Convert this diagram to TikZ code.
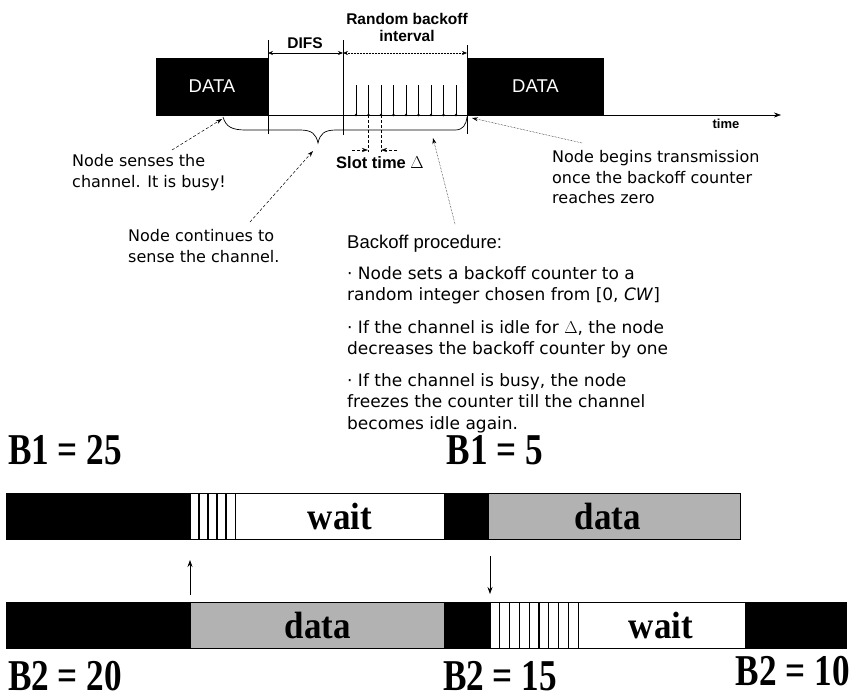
\documentclass[tikz,border=0pt]{standalone}
\usepackage{fontspec}
\usepackage{graphicx}
\setmainfont{Liberation Serif}
\newfontfamily\arialf{Liberation Sans}
\newfontfamily\comicf{DejaVu Sans}
\usetikzlibrary{arrows.meta}
\begin{document}
\begin{tikzpicture}[x=1pt,y=-1pt,
  databox/.style={fill=black,text=white,inner sep=0pt,font=\arialf\fontsize{18.5}{20}\selectfont},
  toplbl/.style={inner sep=0pt,align=center,font=\arialf\bfseries\fontsize{15.5}{17}\selectfont},
  comic/.style={inner sep=0pt,align=left,anchor=north west,font=\comicf\fontsize{16}{20.5}\selectfont},
  comicb/.style={inner sep=0pt,align=left,anchor=north west,font=\comicf\fontsize{17}{21.5}\selectfont},
  annot/.style={densely dashed,line width=0.5pt,-{Stealth[length=6pt,width=4pt]}},
  thin line/.style={line width=0.6pt},
  bigtxt/.style={inner sep=0pt,anchor=base,font=\bfseries\fontsize{44}{48}\selectfont},
  bartxt/.style={inner sep=0pt,font=\bfseries\fontsize{38}{40}\selectfont},
  whiteseg/.style={fill=white,draw=black,line width=0.8pt},
  greyseg/.style={fill=black!30,draw=black,line width=0.8pt},
  marker/.style={-{Stealth[length=7pt,width=5pt]},line width=0.7pt}]
\useasboundingbox (0,0) rectangle (851,699);

% ---------- top timing diagram ----------
\node[databox,minimum width=112pt,minimum height=57pt] (d1) at (212,86.5) {DATA};
\node[databox,minimum width=137pt,minimum height=57pt] (d2) at (535.5,86.5) {DATA};

\coordinate (axL) at (156,115);
\coordinate (axR) at (781,115);
\draw[thin line,-{Stealth[length=7pt,width=5pt]}] (axL) -- (axR);

\coordinate (v1t) at (268,40);  \coordinate (v1b) at (268,134);
\coordinate (v2t) at (343,40);  \coordinate (v2b) at (343,135);
\coordinate (v3t) at (467,45);  \coordinate (v3b) at (467,134);
\draw[thin line] (v1t) -- (v1b);
\draw[thin line] (v2t) -- (v2b);
\draw[thin line] (v3t) -- (v3b);

\coordinate (difsL) at (268,53); \coordinate (difsR) at (343,53);
\coordinate (rbR) at (467,53);
\draw[line width=0.6pt,{Stealth[length=5pt,width=4pt]}-{Stealth[length=5pt,width=4pt]}] (difsL) -- (difsR);
\draw[line width=0.5pt,densely dotted,{Stealth[length=5pt,width=4pt]}-{Stealth[length=5pt,width=4pt]}] (difsR) -- (rbR);
\node[toplbl] (difs) at (305,43) {DIFS};
\node[toplbl] (rb) at (407,27) {Random backoff\\interval};

\foreach \i in {0,...,8} {
  \draw[line width=0.7pt] ({356+12.5*\i},115) -- ({356+12.5*\i},85);
  \fill ({356+12.5*\i},115) circle (1.4pt);
}

% slot time
\coordinate (s1t) at (368,115); \coordinate (s1b) at (368,152);
\coordinate (s2t) at (381,115); \coordinate (s2b) at (381,152);
\draw[densely dashed,line width=0.5pt] (s1t) -- (s1b);
\draw[densely dashed,line width=0.5pt] (s2t) -- (s2b);
\coordinate (sa1) at (352,150); \coordinate (sa2) at (397,150);
\coordinate (sa1e) at (368,150); \coordinate (sa2e) at (381,150);
\draw[annot] (sa1) -- (sa1e);
\draw[annot] (sa2) -- (sa2e);
\node[toplbl,anchor=center,font=\arialf\bfseries\fontsize{16.5}{18}\selectfont] (slot) at (380,163) {Slot time $\Delta$};

% brace
\draw[line width=0.7pt] (223,117) .. controls (226,127) and (232,130) .. (246,130) -- (300,130)
  .. controls (312,130) and (316,134) .. (318,143)
  .. controls (320,134) and (324,130) .. (336,130) -- (455,130)
  .. controls (463,130) and (466,125) .. (467,117);

\node[inner sep=0pt,font=\arialf\bfseries\fontsize{13}{15}\selectfont] (time) at (726,124) {time};

% annotations
\node[comic] (senses) at (72,154.5) {Node senses the\\channel. It is busy!};
\node[comic] (cont) at (128,229.5) {Node continues to\\sense the channel.};
\node[comic] (begins) at (552,150.5) {Node begins transmission\\once the backoff counter\\reaches zero};

\coordinate (a1s) at (172,150); \coordinate (a1e) at (222,119);
\coordinate (a2s) at (250,222); \coordinate (a2e) at (313,151);
\coordinate (a3s) at (582,143); \coordinate (a3e) at (472,118);
\coordinate (a4s) at (455,224); \coordinate (a4e) at (433,138);
\draw[annot] (a1s) -- (a1e);
\draw[annot] (a2s) -- (a2e);
\draw[annot,densely dotted] (a3s) -- (a3e);
\draw[annot,densely dotted] (a4s) -- (a4e);

\node[inner sep=0pt,anchor=base west,font=\arialf\fontsize{18.5}{20}\selectfont] (bp) at (347,248.5) {Backoff procedure:};
\node[comicb] (bp1) at (347,266) {· Node sets a backoff counter to a\\random integer chosen from [0, \textit{CW}]};
\node[comicb] (bp2) at (347,320) {· If the channel is idle for $\Delta$, the node\\decreases the backoff counter by one};
\node[comicb] (bp3) at (347,373) {· If the channel is busy, the node\\freezes the counter till the channel\\becomes idle again.};

% ---------- bottom bars ----------
\node[bigtxt] (b1a) at (65,464) {\scalebox{0.8}[1]{B1 = 25}};
\node[bigtxt] (b1b) at (495,464) {\scalebox{0.8}[1]{B1 = 5}};

% bar 1  (y 493..539)
\fill[black] (6,493) rectangle (190,539);
\draw[whiteseg] (190,493) rectangle (235,539);
\foreach \x in {199,208,217,226} { \draw[line width=1.3pt] (\x,493) -- (\x,539); }
\draw[whiteseg] (235,493) rectangle (444,539);
\node[bartxt] (w1) at (340,516) {\scalebox{0.92}[1]{wait}};
\fill[black] (444,493) rectangle (488,539);
\draw[greyseg] (488,493) rectangle (740,539);
\node[bartxt] (g1) at (608,516) {\scalebox{0.92}[1]{data}};
\draw[line width=0.8pt] (6,493) rectangle (740,539);

% arrows
\coordinate (upS) at (190,595); \coordinate (upE) at (190,560);
\coordinate (dnS) at (490,556); \coordinate (dnE) at (490,594);
\draw[marker] (upS) -- (upE);
\draw[marker] (dnS) -- (dnE);

% bar 2  (y 602..648)
\fill[black] (6,602) rectangle (190,648);
\draw[greyseg] (190,602) rectangle (444,648);
\node[bartxt] (g2) at (318,625) {\scalebox{0.92}[1]{data}};
\fill[black] (444,602) rectangle (490,648);
\draw[whiteseg] (490,602) rectangle (578,648);
\foreach \i in {1,...,8} { \draw[line width=1.3pt] ({490+9.8*\i},602) -- ({490+9.8*\i},648); }
\draw[whiteseg] (578,602) rectangle (745,648);
\node[bartxt] (w2) at (661,625) {\scalebox{0.92}[1]{wait}};
\fill[black] (745,602) rectangle (846,648);
\draw[line width=0.8pt] (6,602) rectangle (846,648);

\node[bigtxt] (b2a) at (65,690) {\scalebox{0.8}[1]{B2 = 20}};
\node[bigtxt] (b2b) at (500,690) {\scalebox{0.8}[1]{B2 = 15}};
\node[bigtxt,anchor=base east] (b2c) at (850,685) {\scalebox{0.8}[1]{B2 = 10}};
\end{tikzpicture}
\end{document}
